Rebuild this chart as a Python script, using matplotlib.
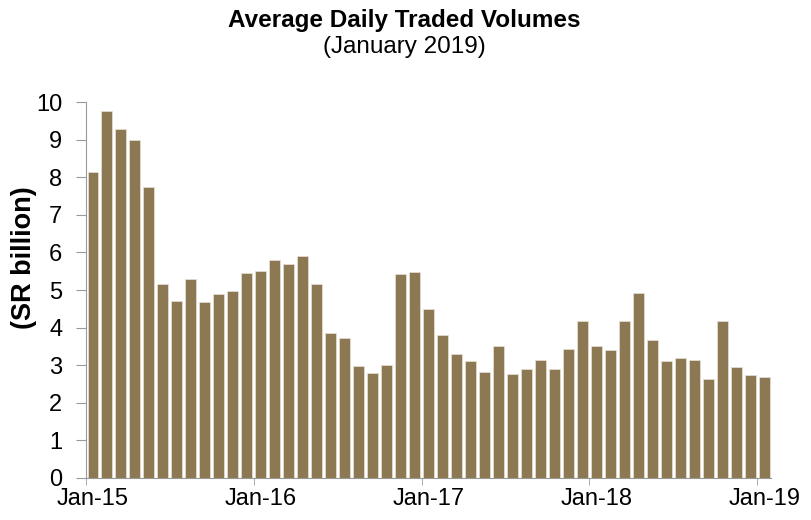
import os
import matplotlib.pyplot as plt
from matplotlib import font_manager

months = [
    "Jan-15", "Feb-15", "Mar-15", "Apr-15", "May-15", "Jun-15", "Jul-15", "Aug-15",
    "Sep-15", "Oct-15", "Nov-15", "Dec-15",
    "Jan-16", "Feb-16", "Mar-16", "Apr-16", "May-16", "Jun-16", "Jul-16", "Aug-16",
    "Sep-16", "Oct-16", "Nov-16", "Dec-16",
    "Jan-17", "Feb-17", "Mar-17", "Apr-17", "May-17", "Jun-17", "Jul-17", "Aug-17",
    "Sep-17", "Oct-17", "Nov-17", "Dec-17",
    "Jan-18", "Feb-18", "Mar-18", "Apr-18", "May-18", "Jun-18", "Jul-18", "Aug-18",
    "Sep-18", "Oct-18", "Nov-18", "Dec-18",
    "Jan-19",
]
volumes = [
    8.15, 9.75, 9.27, 9.0, 7.75, 5.15, 4.7, 5.3, 4.68, 4.9, 4.98, 5.45,
    5.5, 5.8, 5.7, 5.9, 5.15, 3.85, 3.73, 2.97, 2.8, 3.0, 5.42, 5.48,
    4.5, 3.8, 3.3, 3.12, 2.82, 3.52, 2.76, 2.9, 3.15, 2.9, 3.43, 4.18,
    3.52, 3.4, 4.18, 4.92, 3.66, 3.1, 3.2, 3.15, 2.64, 4.18, 2.94, 2.74,
    2.68,
]
label_months = ["Jan-15", "Jan-16", "Jan-17", "Jan-18", "Jan-19"]

plt.rcParams["font.family"] = ["Liberation Sans", "DejaVu Sans"]

# regular-width Liberation Sans Bold for the bold texts
bold_file = None
for f in font_manager.findSystemFonts():
    if os.path.basename(f) == "LiberationSans-Bold.ttf":
        bold_file = f
        break


def bold_font(size):
    if bold_file:
        return font_manager.FontProperties(fname=bold_file, size=size)
    return font_manager.FontProperties(family="Liberation Sans", weight="bold", size=size)


fig = plt.figure(figsize=(8.11, 5.2), dpi=100)
ax = fig.add_axes([0.106, 0.0808, 0.845, 0.723])

x = list(range(len(months)))
ax.bar(x, volumes, width=0.78, color="#8C7853", edgecolor="#E8E2D6", linewidth=0.5)

ax.set_xlim(-0.5, len(months) - 0.5)
ax.set_ylim(0, 10)
ax.set_yticks(range(0, 11))
ax.tick_params(axis="y", labelsize=17, length=7, color="#999999", pad=10)

# labels centred on the January bars, tick marks on category edges
pos = [months.index(m) for m in label_months]
ax.set_xticks(pos)
ax.set_xticklabels(label_months, fontsize=17)
ax.tick_params(axis="x", length=0, pad=7)
ax.set_xticks([p - 0.5 for p in pos], minor=True)
ax.tick_params(axis="x", which="minor", length=5, color="#999999")

for s in ["top", "right"]:
    ax.spines[s].set_visible(False)
for s in ["left", "bottom"]:
    ax.spines[s].set_color("#999999")

fig.text(0.029, 0.504, "(SR billion)", rotation=90, ha="center", va="center",
         fontproperties=bold_font(19.5))

fig.text(0.499, 0.96, "Average Daily Traded Volumes", ha="center", va="center",
         fontproperties=bold_font(17.5))
fig.text(0.499, 0.909, "(January 2019)", ha="center", va="center", fontsize=17.5)

fig.savefig("out.png", dpi=100)
